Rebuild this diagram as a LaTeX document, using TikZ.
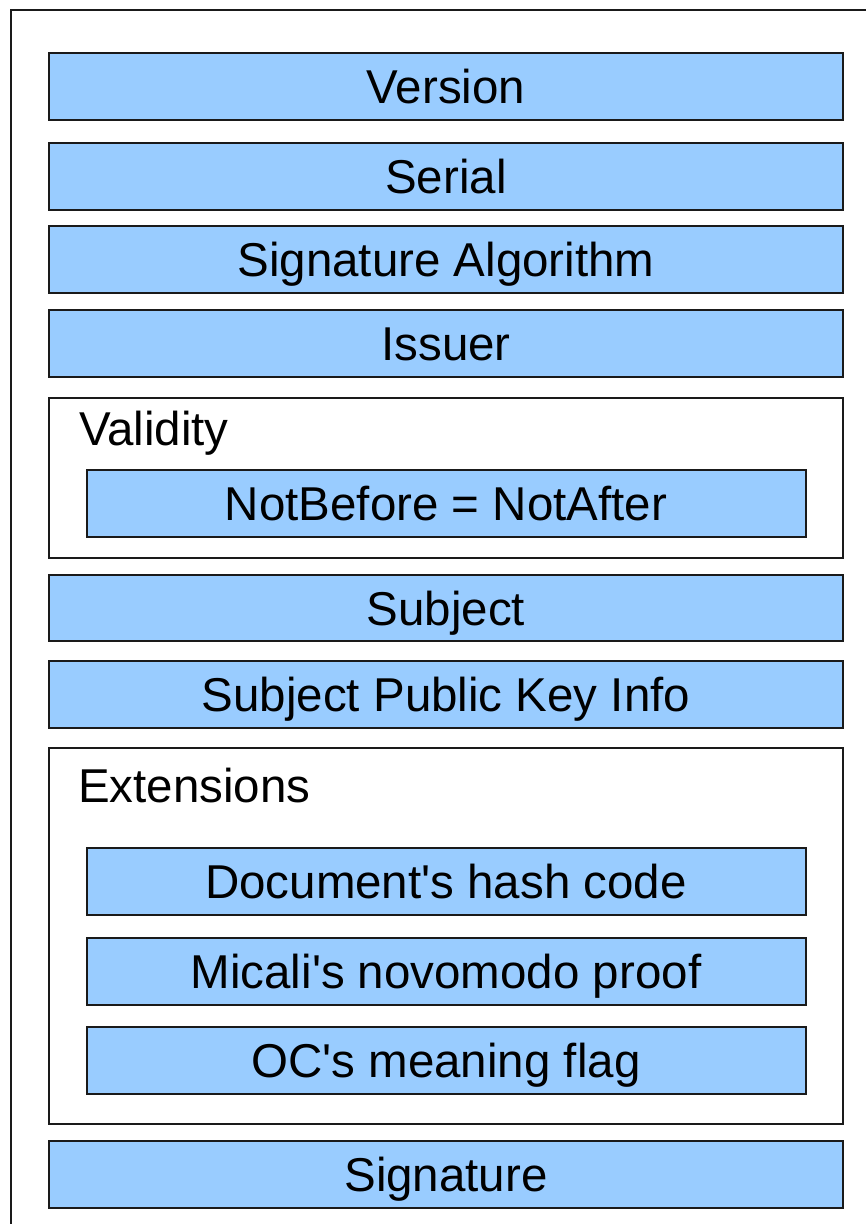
\documentclass[tikz,border=0pt]{standalone}
\usepackage{fontspec}
\setmainfont{Liberation Sans}
\usepackage{xcolor}
\usetikzlibrary{positioning}
\definecolor{fieldblue}{HTML}{99CCFF}
\definecolor{edgegray}{HTML}{1A1A1A}

\begin{document}
\begin{tikzpicture}[x=1pt,y=1pt,
                  font=\fontsize{47.5}{57}\selectfont,
                  field/.style={rectangle,draw=edgegray,fill=fieldblue,line width=2pt,
                    minimum width=794pt,minimum height=67pt,inner sep=0pt,outer sep=0pt,
                    text height=34pt,text depth=0pt},
                  subfield/.style={field,minimum width=719pt},
                  group/.style={rectangle,draw=edgegray,line width=1.6pt,
                    minimum width=794pt,inner sep=0pt,outer sep=0pt},
                  grouptitle/.style={inner sep=0pt,outer sep=0pt}
                  ]
                  \useasboundingbox (0,0) rectangle (866,-1224);
                  \draw[edgegray,line width=1.6pt] (11,-1240) -- (11,-10) -- (880,-10);

                  \node[field] (version) at (446,-86.5) {Version};
                  \node[field] (serial) [below=23pt of version] {Serial};
                  \node[field] (sigalg) [below=16pt of serial] {Signature Algorithm};
                  \node[field] (issuer) [below=17pt of sigalg] {Issuer};

                  \node[group,minimum height=160pt] (validity) [below=21pt of issuer] {};
                  \node[grouptitle] (validitytitle) [below right=47pt and 30pt of validity.north west,anchor=base west] {Validity};
                  \node[subfield] (notbefore) [below=72pt of validity.north] {NotBefore = NotAfter};

                  \node[field,minimum height=66pt] (subject) [below=17pt of validity] {Subject};
                  \node[field] (spki) [below=20pt of subject] {Subject Public Key Info};

                  \node[group,minimum height=376pt] (extensions) [below=20pt of spki] {};
                  \node[grouptitle] (extensionstitle) [below right=54pt and 29pt of extensions.north west,anchor=base west] {Extensions};
                  \node[subfield] (dochash) [below=100pt of extensions.north] {Document\textquotesingle s hash code};
                  \node[subfield] (novomodo) [below=23pt of dochash] {Micali\textquotesingle s novomodo proof};
                  \node[subfield] (ocflag) [below=22pt of novomodo] {OC\textquotesingle s meaning flag};

                  \node[field] (signature) [below=17pt of extensions] {Signature};
                \end{tikzpicture}
\end{document}
